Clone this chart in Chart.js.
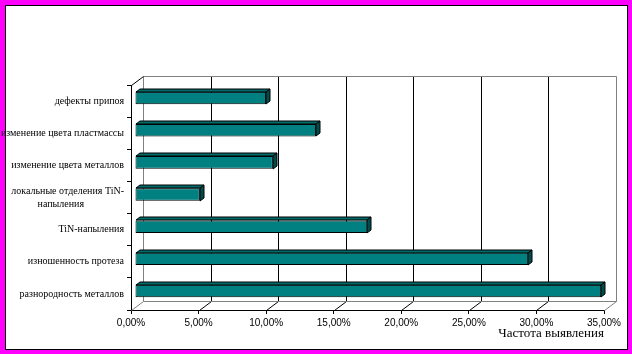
<!DOCTYPE html>
<html>
<head>
<meta charset="utf-8">
<script src="https://cdn.jsdelivr.net/npm/chart.js@4"></script>
<style>
    html, body { margin: 0; padding: 0; background: #ff00ff; }
    #frame { position: absolute; left: 5px; top: 5px; width: 621px; height: 343px; border: 1px solid #000; background: #fff; }
    #myChart { position: absolute; left: 0; top: 0; }
</style>
</head>
<body>
<div id="frame"></div>
<canvas id="myChart" width="632" height="354"></canvas>
<script>
var categories = [
    'дефекты припоя',
    'изменение цвета пластмассы',
    'изменение цвета металлов',
    ['локальные отделения TiN-', 'напыления                '],
    'TiN-напыления',
    'изношенность протеза',
    'разнородность металлов'
];
var frequency = [9.7, 13.4, 10.2, 4.8, 17.2, 29.1, 34.5];
var xTicks = [0, 5, 10, 15, 20, 25, 30, 35];
var axisTitle = 'Частота выявления';

(function (window) {

    // depth of the plot box and of the bars (front -> back)
    var DEPTH_X = 12, DEPTH_Y = -9;
    var BAR_X = 4, BAR_Y = -3;

    var box3d = {
        id: 'box3d',
        beforeDatasetsDraw: function (chart) {
            var ctx = chart.ctx;
            var area = chart.chartArea;
            var xs = chart.scales.x;
            var left = xs.getPixelForValue(0) + 0.5;
            var right = xs.getPixelForValue(35) + 0.5;
            var top = Math.round(area.top) + 0.5;
            var bottom = Math.round(area.bottom) + 0.5;

            ctx.save();
            ctx.lineWidth = 1;

            // back wall grid + floor lines
            xTicks.forEach(function (v, i) {
                var x = Math.round(xs.getPixelForValue(v)) + 0.5;
                var edge = (i === 0 || i === xTicks.length - 1);
                ctx.strokeStyle = edge ? '#808080' : '#000';
                ctx.beginPath();
                ctx.moveTo(x + DEPTH_X, top + DEPTH_Y);
                ctx.lineTo(x + DEPTH_X, bottom + DEPTH_Y);
                ctx.moveTo(x + DEPTH_X, bottom + DEPTH_Y);
                ctx.lineTo(x, bottom);
                ctx.stroke();
            });

            ctx.strokeStyle = '#808080';
            ctx.beginPath();
            ctx.moveTo(left + DEPTH_X, top + DEPTH_Y);
            ctx.lineTo(right + DEPTH_X, top + DEPTH_Y);
            ctx.moveTo(left + DEPTH_X, bottom + DEPTH_Y);
            ctx.lineTo(right + DEPTH_X, bottom + DEPTH_Y);
            ctx.stroke();

            ctx.strokeStyle = '#000';
            ctx.beginPath();
            ctx.moveTo(left, top);
            ctx.lineTo(left + DEPTH_X, top + DEPTH_Y);
            ctx.stroke();
            ctx.restore();

            // bars sit a bit inside the box
            ctx.save();
            ctx.translate(BAR_X, BAR_Y);
        },
        afterDatasetsDraw: function (chart) {
            var ctx = chart.ctx;
            ctx.restore();

            var meta = chart.getDatasetMeta(0);
            ctx.save();
            ctx.lineWidth = 1;
            ctx.strokeStyle = '#000';
            meta.data.forEach(function (bar) {
                var p = bar.getProps(['x', 'y', 'base', 'height'], true);
                var l = Math.round(p.base) + BAR_X;
                var r = Math.round(p.x) + BAR_X;
                var t = Math.round(p.y - p.height / 2) + BAR_Y;
                var b = Math.round(p.y + p.height / 2) + BAR_Y;

                ctx.fillStyle = '#006b6b';
                ctx.beginPath();
                ctx.moveTo(l, t);
                ctx.lineTo(l + BAR_X, t + BAR_Y);
                ctx.lineTo(r + BAR_X, t + BAR_Y);
                ctx.lineTo(r, t);
                ctx.closePath();
                ctx.fill();
                ctx.stroke();

                ctx.fillStyle = '#004c4c';
                ctx.beginPath();
                ctx.moveTo(r, t);
                ctx.lineTo(r + BAR_X, t + BAR_Y);
                ctx.lineTo(r + BAR_X, b + BAR_Y);
                ctx.lineTo(r, b);
                ctx.closePath();
                ctx.fill();
                ctx.stroke();
            });
            ctx.restore();
        }
    };

    function initializeChart() {
        var canvas = document.getElementById('myChart');
        if (!canvas) {
            return;
        }

        new Chart(canvas.getContext('2d'), {
            type: 'bar',
            data: {
                labels: categories,
                datasets: [
                    {
                        label: axisTitle,
                        data: frequency,
                        backgroundColor: '#008080',
                        borderColor: '#000',
                        borderWidth: 1,
                        borderSkipped: false,
                        barPercentage: 0.39,
                        categoryPercentage: 1
                    }
                ]
            },
            options: {
                indexAxis: 'y',
                responsive: false,
                animation: false,
                layout: {
                    padding: { top: 85, right: 28, bottom: 0, left: 0 }
                },
                plugins: {
                    legend: { display: false },
                    tooltip: { enabled: false }
                },
                scales: {
                    x: {
                        min: 0,
                        max: 35,
                        afterFit: function (scale) { scale.height = 44; },
                        afterBuildTicks: function (scale) {
                            scale.ticks = xTicks.map(function (v) { return { value: v }; });
                        },
                        grid: { drawOnChartArea: false, color: '#000', tickLength: 4 },
                        border: { color: '#000' },
                        ticks: {
                            maxRotation: 0,
                            autoSkip: false,
                            padding: 3,
                            color: '#000',
                            font: { family: 'Liberation Sans', size: 10 },
                            callback: function (v) {
                                return v.toFixed(2).replace('.', ',') + '%';
                            }
                        },
                        title: {
                            display: true,
                            text: axisTitle,
                            align: 'end',
                            color: '#000',
                            font: { family: 'Liberation Serif', size: 13 },
                            padding: { top: 0, bottom: 13 }
                        }
                    },
                    y: {
                        afterFit: function (scale) { scale.width = 131; },
                        grid: { drawOnChartArea: false, color: '#000', tickLength: 4 },
                        border: { color: '#000' },
                        ticks: {
                            padding: 3,
                            color: '#000',
                            autoSkip: false,
                            font: { family: 'Liberation Serif', size: 10, lineHeight: 1.3 }
                        }
                    }
                }
            },
            plugins: [box3d]
        });
    }

    document.addEventListener('DOMContentLoaded', initializeChart);

})(window);
</script>
</body>
</html>
